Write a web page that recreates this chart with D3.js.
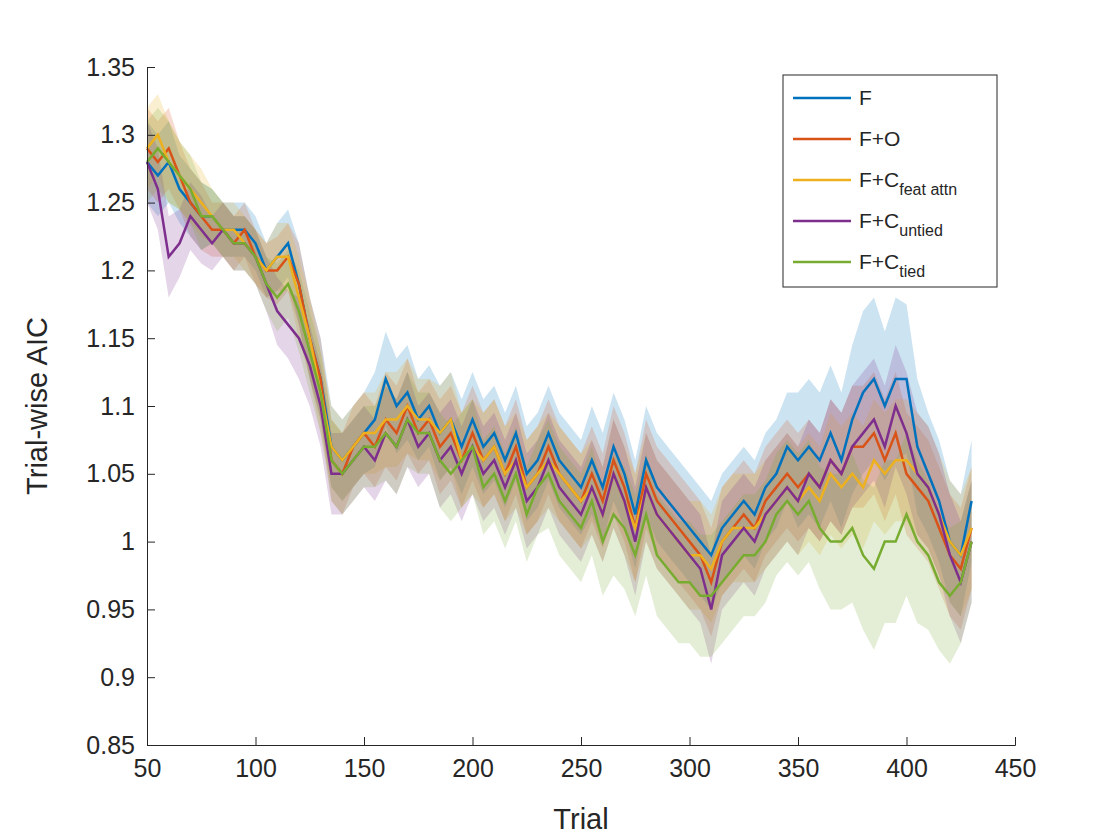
<!DOCTYPE html>
<html>
<head>
<meta charset="utf-8">
<script src="https://cdn.jsdelivr.net/npm/d3@7"></script>
<style>
  body { margin: 0; background: #fff; }
  text { font-family: "Liberation Sans", Arial, Helvetica, sans-serif; fill: #262626; }
</style>
</head>
<body>
<svg id="chart" width="1120" height="840"></svg>
<script>
// trials sampled every 5 from 50 to 430
const trials = d3.range(50, 431, 5);

const fVals = [1.28,1.27,1.28,1.26,1.25,1.24,1.24,1.23,1.23,1.23,
  1.22,1.20,1.21,1.22,1.19,1.15,1.12,1.07,1.06,1.07,
  1.08,1.09,1.12,1.10,1.11,1.09,1.10,1.08,1.09,1.07,
  1.09,1.07,1.08,1.06,1.08,1.05,1.06,1.08,1.06,1.05,
  1.04,1.06,1.04,1.07,1.05,1.02,1.06,1.04,1.03,1.02,
  1.01,1.00,0.99,1.01,1.02,1.03,1.02,1.04,1.05,1.07,
  1.06,1.07,1.06,1.08,1.06,1.09,1.11,1.12,1.10,1.12,
  1.12,1.07,1.05,1.03,1.00,0.99,1.03];
const foVals = [1.29,1.28,1.29,1.27,1.25,1.24,1.23,1.23,1.22,1.23,
  1.21,1.20,1.20,1.21,1.19,1.15,1.12,1.06,1.05,1.07,
  1.08,1.07,1.09,1.08,1.10,1.08,1.09,1.07,1.08,1.06,
  1.08,1.06,1.07,1.05,1.07,1.04,1.05,1.07,1.05,1.04,
  1.03,1.05,1.03,1.06,1.04,1.01,1.05,1.03,1.02,1.01,
  1.00,0.99,0.97,1.00,1.01,1.02,1.01,1.03,1.04,1.05,
  1.04,1.05,1.04,1.06,1.05,1.07,1.07,1.08,1.06,1.08,
  1.05,1.04,1.03,1.01,0.99,0.98,1.01];
const featVals = [1.29,1.30,1.28,1.27,1.26,1.25,1.24,1.23,1.23,1.22,
  1.21,1.20,1.21,1.21,1.18,1.15,1.11,1.07,1.06,1.07,
  1.08,1.08,1.09,1.09,1.10,1.09,1.09,1.08,1.09,1.06,
  1.07,1.06,1.07,1.05,1.06,1.04,1.05,1.06,1.05,1.04,
  1.03,1.04,1.02,1.05,1.03,1.01,1.04,1.02,1.01,1.00,
  0.99,0.99,0.98,1.00,1.01,1.01,1.01,1.02,1.03,1.04,
  1.03,1.04,1.03,1.05,1.04,1.05,1.04,1.06,1.05,1.06,
  1.06,1.05,1.04,1.02,1.00,0.99,1.01];
const untiedVals = [1.28,1.26,1.21,1.22,1.24,1.23,1.22,1.23,1.22,1.22,
  1.21,1.19,1.17,1.16,1.15,1.13,1.10,1.05,1.05,1.06,
  1.07,1.06,1.08,1.07,1.09,1.07,1.08,1.06,1.07,1.05,
  1.07,1.05,1.06,1.04,1.06,1.03,1.04,1.06,1.04,1.03,
  1.02,1.04,1.02,1.05,1.03,1.00,1.04,1.02,1.01,1.00,
  0.99,0.98,0.95,0.99,1.00,1.01,1.00,1.02,1.03,1.04,
  1.03,1.05,1.04,1.06,1.05,1.07,1.08,1.09,1.07,1.10,
  1.08,1.05,1.04,1.02,0.99,0.97,1.00];
const tiedVals = [1.28,1.29,1.28,1.27,1.26,1.24,1.24,1.23,1.22,1.22,
  1.21,1.19,1.18,1.19,1.17,1.14,1.11,1.06,1.05,1.06,
  1.07,1.07,1.08,1.07,1.09,1.08,1.08,1.06,1.05,1.06,
  1.07,1.04,1.05,1.03,1.05,1.02,1.04,1.05,1.03,1.02,
  1.01,1.03,1.00,1.02,1.01,0.99,1.02,0.99,0.98,0.97,
  0.97,0.96,0.96,0.97,0.98,0.99,0.99,1.00,1.02,1.03,
  1.02,1.03,1.01,1.00,1.00,1.01,0.99,0.98,1.00,1.00,
  1.02,1.00,0.99,0.97,0.96,0.97,1.00];

// half-widths of the shaded bands
const ciCommon = [.03,.03,.03,.025,.025,.025,.02,.02,.02,.02,
  .02,.02,.025,.025,.03,.03,.03,.03,.03,.03,
  .03,.03,.035,.035,.035,.03,.03,.035,.035,.035,
  .035,.035,.035,.035,.035,.035,.035,.035,.035,.035,
  .035,.035,.035,.04,.04,.04,.04,.04,.04,.04,
  .04,.04,.04,.04,.04,.04,.04,.04,.04,.04,
  .04,.04,.04,.045,.045,.045,.045,.045,.045,.045,
  .045,.045,.045,.045,.045,.045,.045];
const ciF = [.03,.03,.03,.025,.025,.025,.02,.02,.02,.02,
  .02,.02,.025,.025,.03,.03,.03,.03,.03,.03,
  .03,.035,.035,.035,.035,.03,.03,.035,.035,.035,
  .035,.035,.035,.035,.035,.035,.035,.035,.035,.035,
  .035,.04,.04,.04,.04,.04,.04,.04,.04,.04,
  .04,.04,.04,.04,.04,.04,.04,.04,.04,.04,
  .05,.05,.05,.05,.05,.055,.06,.06,.055,.06,
  .055,.05,.045,.045,.045,.045,.045];
const ciTied = [.03,.03,.03,.025,.025,.025,.02,.02,.02,.02,
  .02,.02,.025,.025,.03,.03,.03,.03,.03,.03,
  .03,.03,.035,.035,.035,.03,.03,.035,.035,.035,
  .035,.035,.035,.035,.035,.035,.035,.04,.04,.04,
  .04,.04,.04,.045,.045,.045,.045,.045,.045,.045,
  .045,.045,.045,.045,.045,.045,.045,.045,.045,.045,
  .045,.045,.045,.05,.05,.055,.055,.06,.06,.06,
  .06,.06,.055,.05,.05,.045,.045];

const seriesNames = ["F", "F+O", "F+C", "F+C", "F+C"];
const seriesSubs = ["", "", "feat attn", "untied", "tied"];
const seriesColors = ["#0072BD", "#D95319", "#EDB120", "#7E2F8E", "#77AC30"];
const seriesValues = [fVals, foVals, featVals, untiedVals, tiedVals];
const seriesCi = [ciF, ciCommon, ciCommon, ciCommon, ciTied];

const xTicks = [50, 100, 150, 200, 250, 300, 350, 400, 450];
const yTicks = [0.85, 0.9, 0.95, 1, 1.05, 1.1, 1.15, 1.2, 1.25, 1.3, 1.35];

const margin = { top: 67, right: 105, bottom: 95, left: 147 };
const width = 1120, height = 840;
const innerWidth = width - margin.left - margin.right;
const innerHeight = height - margin.top - margin.bottom;

const svg = d3.select("#chart");
const g = svg.append("g").attr("transform", `translate(${margin.left},${margin.top})`);

const xScale = d3.scaleLinear().domain([50, 450]).range([0, innerWidth]);
const yScale = d3.scaleLinear().domain([0.85, 1.35]).range([innerHeight, 0]);

seriesValues.forEach((vals, i) => {
  const pts = trials.map((t, j) => ({ x: t, y: vals[j], h: seriesCi[i][j] }));
  g.append("path")
    .datum(pts)
    .attr("fill", seriesColors[i])
    .attr("fill-opacity", 0.2)
    .attr("d", d3.area().x(d => xScale(d.x)).y0(d => yScale(d.y - d.h)).y1(d => yScale(d.y + d.h)));
});
seriesValues.forEach((vals, i) => {
  const pts = trials.map((t, j) => ({ x: t, y: vals[j] }));
  g.append("path")
    .datum(pts)
    .attr("fill", "none")
    .attr("stroke", seriesColors[i])
    .attr("stroke-width", 2.5)
    .attr("d", d3.line().x(d => xScale(d.x)).y(d => yScale(d.y)));
});

const xAxis = g.append("g")
  .attr("transform", `translate(0,${innerHeight})`)
  .call(d3.axisBottom(xScale).tickValues(xTicks).tickSize(-8).tickPadding(14).tickFormat(d3.format("d")));
const yAxis = g.append("g")
  .call(d3.axisLeft(yScale).tickValues(yTicks).tickSize(-8).tickPadding(12).tickFormat(d => d3.format("")(+d.toFixed(2))));
[xAxis, yAxis].forEach(a => {
  a.selectAll("path, line").attr("stroke", "#262626").attr("stroke-width", 1);
  a.selectAll("text").style("font-size", "25px").attr("fill", "#262626");
});

g.append("text")
  .attr("x", innerWidth / 2).attr("y", innerHeight + 84)
  .attr("text-anchor", "middle").style("font-size", "29px").text("Trial");
g.append("text")
  .attr("transform", "rotate(-90)")
  .attr("x", -innerHeight / 2).attr("y", -100)
  .attr("text-anchor", "middle").style("font-size", "29px").text("Trial-wise AIC");

// legend
const legend = svg.append("g").attr("transform", "translate(783,75)");
legend.append("rect").attr("width", 214).attr("height", 212)
  .attr("fill", "#fff").attr("stroke", "#262626").attr("stroke-width", 1);
seriesNames.forEach((name, i) => {
  const y = 23 + i * 41;
  legend.append("line").attr("x1", 10).attr("x2", 68).attr("y1", y).attr("y2", y)
    .attr("stroke", seriesColors[i]).attr("stroke-width", 2.5);
  const t = legend.append("text").attr("x", 76).attr("y", y + 7).style("font-size", "21px");
  t.append("tspan").text(name);
  if (seriesSubs[i]) {
    t.append("tspan").attr("dy", 8).style("font-size", "16px").text(seriesSubs[i]);
  }
});
</script>
</body>
</html>
